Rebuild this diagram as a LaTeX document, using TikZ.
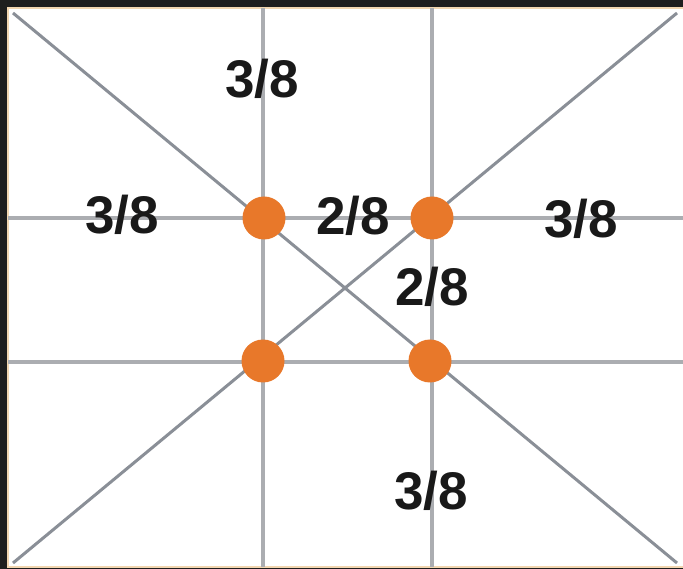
\documentclass[tikz,border=0pt]{standalone}
\usepackage{fontspec}
\setmainfont{Liberation Sans}
\definecolor{darkbg}{HTML}{1E1E1E}
\definecolor{frameline}{HTML}{F2D6B0}
\definecolor{gridgray}{HTML}{ABADB1}
\definecolor{diaggray}{HTML}{8A8F97}
\definecolor{dotorange}{HTML}{E8782A}
\tikzset{
  frac/.style={font=\fontsize{53}{53}\selectfont\bfseries, text=black!90, inner sep=0pt},
  dot/.style={circle, fill=dotorange, minimum size=43pt, inner sep=0pt},
  grid/.style={gridgray, line width=3.2pt},
  diag/.style={diaggray, line width=3pt}
}
\begin{document}
\begin{tikzpicture}[x=1pt,y=-1pt]
		\fill[darkbg] (0,0) rectangle (683,569);
		\useasboundingbox (0,0) rectangle (683,569);
		\fill[white] (7,7) rectangle (686,568);
		\draw[frameline, line width=2pt] (8,8) rectangle (686,567);
		
		\coordinate (tl) at (13,13);
		\coordinate (tr) at (677,13);
		\coordinate (bl) at (13,563);
		\coordinate (br) at (677,563);
		
		\draw[grid] (263,8) -- (263,567);
		\draw[grid] (432,8) -- (432,567);
		\draw[grid] (8,218) -- (683,218);
		\draw[grid] (8,362) -- (683,362);
		
		\draw[diag] (tl) -- (br);
		\draw[diag] (bl) -- (tr);
		
		\node[dot] (p1) at (264,218) {};
		\node[dot] (p2) at (432,218) {};
		\node[dot] (p3) at (263,361) {};
		\node[dot] (p4) at (430,361) {};
		
		\node[frac] (top) at (262,79) {3/8};
		\node[frac] (left) at (122,215) {3/8};
		\node[frac] (mid) at (353,216) {2/8};
		\node[frac] (right) at (581,219) {3/8};
		\node[frac] (down) at (432,287) {2/8};
		\node[frac] (bottom) at (431,491) {3/8};
	\end{tikzpicture}
\end{document}
